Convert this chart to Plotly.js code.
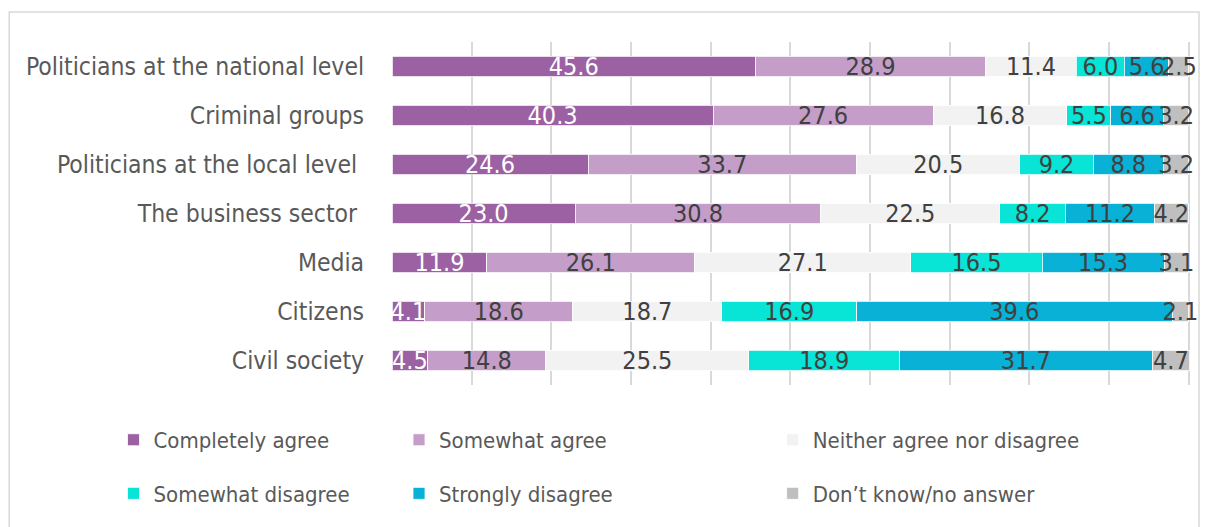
<!DOCTYPE html>
<html>
<head>
<meta charset="utf-8">
<script src="https://cdn.plot.ly/plotly-3.0.1.min.js"></script>
<style>
  html, body { margin: 0; padding: 0; background: #ffffff; }
  #chart { width: 1208px; height: 527px; }
</style>
</head>
<body>
<div id="chart"></div>
<script>
const categories = [
  "Politicians at the national level",
  "Criminal groups",
  "Politicians at the local level\u00a0",
  "The business sector\u00a0",
  "Media",
  "Citizens",
  "Civil society"
];
const seriesNames = [
  "Completely agree",
  "Somewhat agree",
  "Neither agree nor disagree",
  "Somewhat disagree",
  "Strongly disagree",
  "Don\u2019t know/no answer"
];
const completelyAgree   = [45.6, 40.3, 24.6, 23.0, 11.9, 4.1, 4.5];
const somewhatAgree     = [28.9, 27.6, 33.7, 30.8, 26.1, 18.6, 14.8];
const neitherAgree      = [11.4, 16.8, 20.5, 22.5, 27.1, 18.7, 25.5];
const somewhatDisagree  = [6.0, 5.5, 9.2, 8.2, 16.5, 16.9, 18.9];
const stronglyDisagree  = [5.6, 6.6, 8.8, 11.2, 15.3, 39.6, 31.7];
const dontKnow          = [2.5, 3.2, 3.2, 4.2, 3.1, 2.1, 4.7];

const seriesValues = [completelyAgree, somewhatAgree, neitherAgree, somewhatDisagree, stronglyDisagree, dontKnow];
const colors = ["#9B61A3", "#C49EC8", "#F2F2F2", "#08E4D6", "#08B1D5", "#BFBFBF"];
const labelColors = ["#FFFFFF", "#404040", "#404040", "#404040", "#404040", "#404040"];
const legendIds = ["legend", "legend2", "legend3", "legend", "legend2", "legend3"];

const FONT = "'Liberation Sans Narrow', 'DejaVu Sans Condensed', 'Roboto', sans-serif";

const traces = seriesValues.map((vals, i) => ({
  type: "bar",
  orientation: "h",
  name: seriesNames[i],
  y: categories,
  x: vals,
  text: vals.map(v => v.toFixed(1)),
  textposition: "inside",
  insidetextanchor: "middle",
  textangle: 0,
  constraintext: "none",
  cliponaxis: false,
  textfont: { family: FONT, size: 25, color: labelColors[i] },
  marker: { color: colors[i], line: { color: "#FFFFFF", width: 0.8 } },
  legend: legendIds[i],
  legendgroup: "g" + i,
  hoverinfo: "x+y+name"
}));

const legendCommon = {
  orientation: "v",
  yref: "container",
  yanchor: "top",
  y: 0.205,
  xanchor: "left",
  traceorder: "grouped",
  tracegroupgap: 22,
  font: { family: FONT, size: 22, color: "#595959" },
  itemwidth: 30,
  bgcolor: "rgba(0,0,0,0)"
};

const layout = {
  width: 1208,
  height: 527,
  margin: { l: 392, r: 18, t: 42, b: 142 },
  paper_bgcolor: "#FFFFFF",
  plot_bgcolor: "#FFFFFF",
  barmode: "stack",
  bargap: 0.59,
  showlegend: true,
  uniformtext: { mode: "show", minsize: 25 },
  font: { family: FONT, color: "#595959" },
  xaxis: {
    range: [0, 100.15],
    dtick: 10,
    showgrid: true,
    gridcolor: "#D9D9D9",
    gridwidth: 1.5,
    zeroline: false,
    showticklabels: false,
    showline: false,
    fixedrange: true
  },
  yaxis: {
    autorange: "reversed",
    showgrid: false,
    zeroline: false,
    ticks: "outside",
    ticklen: 22,
    tickcolor: "rgba(0,0,0,0)",
    tickfont: { family: FONT, size: 24.5, color: "#595959" },
    fixedrange: true
  },
  legend:  Object.assign({}, legendCommon, { x: -0.349 }),
  legend2: Object.assign({}, legendCommon, { x: 0.0088 }),
  legend3: Object.assign({}, legendCommon, { x: 0.477 }),
  shapes: [{
    type: "rect",
    xref: "paper", yref: "paper",
    x0: -0.4797, x1: 1.0113,
    y0: -0.6, y1: 1.0875,
    line: { color: "#D9D9D9", width: 1.5 },
    fillcolor: "rgba(0,0,0,0)",
    layer: "below"
  }]
};

Plotly.newPlot("chart", traces, layout, { displayModeBar: false });
</script>
</body>
</html>
